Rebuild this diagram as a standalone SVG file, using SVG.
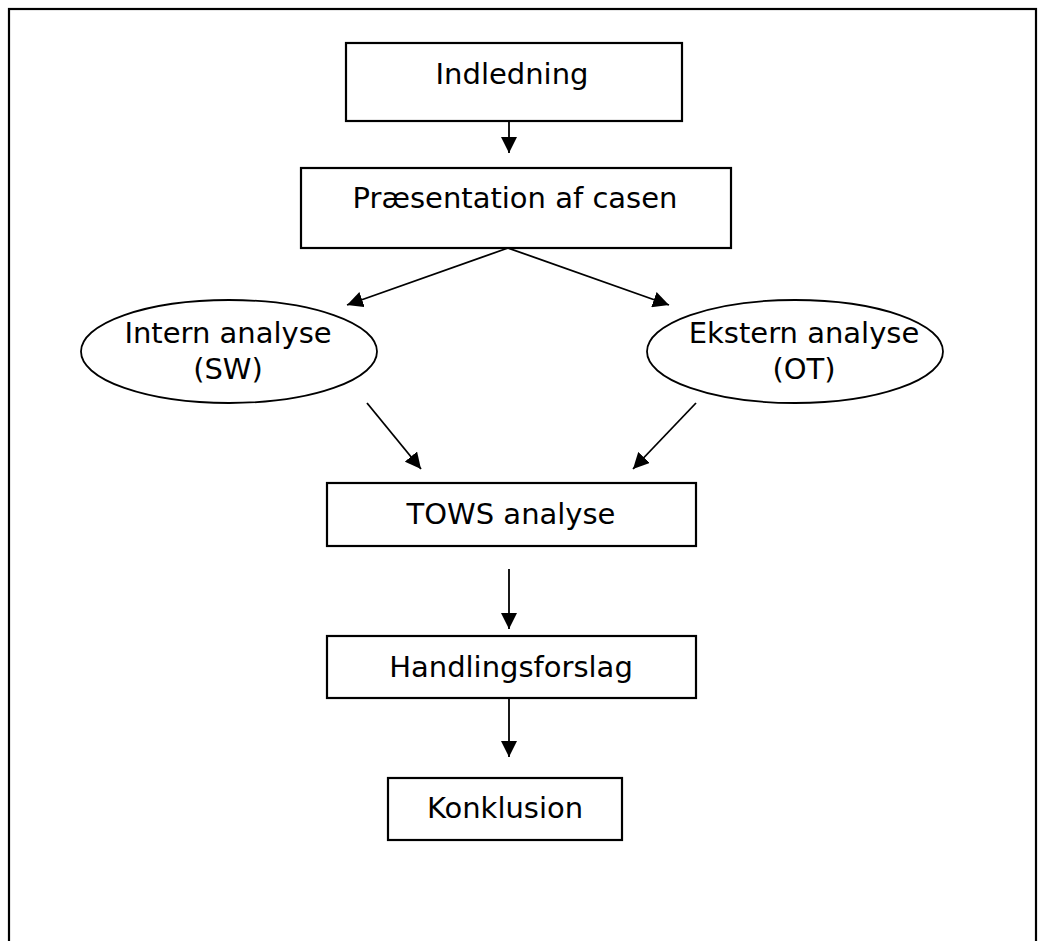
<svg xmlns="http://www.w3.org/2000/svg" width="1050" height="941" viewBox="0 0 1050 941">
  <style>
    .box { fill: #fff; stroke: #000; stroke-width: 2.2; }
    .ell { fill: #fff; stroke: #000; stroke-width: 1.8; }
    .lbl { font-family: "DejaVu Sans", Verdana, sans-serif; font-size: 29px; fill: #000; text-anchor: middle; }
    .conn { stroke: #000; stroke-width: 1.8; fill: none; marker-end: url(#arrow); }
  </style>
  <defs>
    <marker id="arrow" markerUnits="userSpaceOnUse" markerWidth="16" markerHeight="16" viewBox="0 0 16 16" refX="16" refY="8" orient="auto">
      <path d="M0,0 L16,8 L0,16 z" fill="#000"/>
    </marker>
  </defs>
  <rect width="1050" height="941" fill="#fff"/>
  <g id="frame">
    <rect x="9" y="9" width="1027" height="960" fill="none" stroke="#000" stroke-width="2.2"/>
  </g>
  <g id="connectors">
    <line class="conn" x1="509" y1="121" x2="509" y2="153"/>
    <line class="conn" x1="508" y1="248" x2="347" y2="305"/>
    <line class="conn" x1="508" y1="248" x2="669" y2="305"/>
    <line class="conn" x1="367" y1="403" x2="421" y2="469"/>
    <line class="conn" x1="696" y1="403" x2="633" y2="469"/>
    <line class="conn" x1="509" y1="569" x2="509" y2="629"/>
    <line class="conn" x1="509" y1="698" x2="509" y2="757"/>
  </g>
  <g id="indledning">
    <rect class="box" x="346" y="43" width="336" height="78"/>
    <text class="lbl" x="512" y="84">Indledning</text>
  </g>
  <g id="praesentation">
    <rect class="box" x="301" y="168" width="430" height="80"/>
    <text class="lbl" x="515" y="208">Præsentation af casen</text>
  </g>
  <g id="intern">
    <ellipse class="ell" cx="229" cy="351.5" rx="148" ry="51.5"/>
    <text class="lbl" x="228" y="343">Intern analyse</text>
    <text class="lbl" x="228" y="379">(SW)</text>
  </g>
  <g id="ekstern">
    <ellipse class="ell" cx="795" cy="351.5" rx="148" ry="51.5"/>
    <text class="lbl" x="804" y="343">Ekstern analyse</text>
    <text class="lbl" x="804" y="379">(OT)</text>
  </g>
  <g id="tows">
    <rect class="box" x="327" y="483" width="369" height="63"/>
    <text class="lbl" x="511" y="524">TOWS analyse</text>
  </g>
  <g id="handlingsforslag">
    <rect class="box" x="327" y="636" width="369" height="62"/>
    <text class="lbl" x="511" y="677">Handlingsforslag</text>
  </g>
  <g id="konklusion">
    <rect class="box" x="388" y="778" width="234" height="62"/>
    <text class="lbl" x="505" y="818">Konklusion</text>
  </g>
</svg>
